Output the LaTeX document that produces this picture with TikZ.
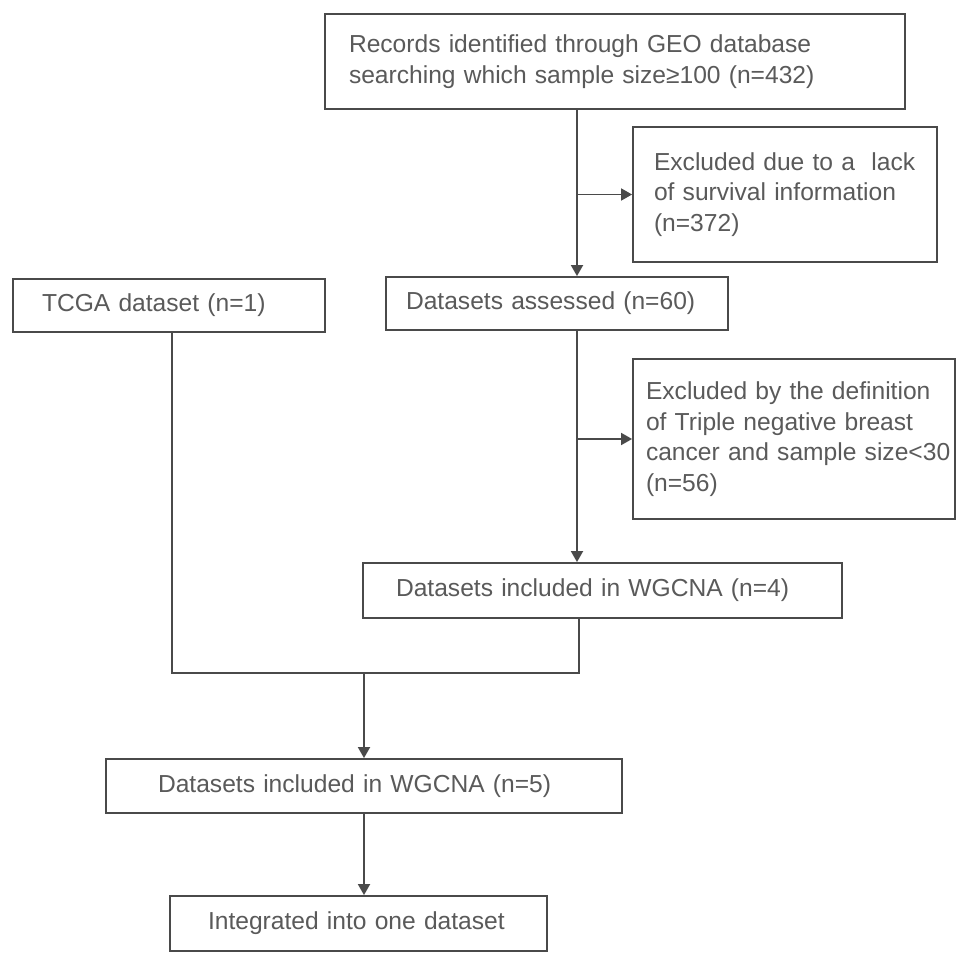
\documentclass[tikz,border=0pt]{standalone}
\usepackage{fontspec}
\setmainfont{Liberation Sans}
\usetikzlibrary{arrows.meta}
\definecolor{edgegray}{HTML}{4A4A4A}
\definecolor{txtgray}{HTML}{5A5A5A}
\tikzset{
  box/.style={draw=edgegray, line width=1.8pt, fill=white, text=txtgray, align=left,
    inner ysep=0pt, font=\fontsize{24.6}{30.5}\selectfont},
  link/.style={draw=edgegray, line width=1.8pt},
  arr/.style={link, -{Triangle[length=11pt,width=12pt]}}
}
\begin{document}
\begin{tikzpicture}[x=1pt,y=-1pt]
\useasboundingbox (0,0) rectangle (969,965);
\node[box, text width=532pt, inner xsep=24pt, minimum height=95pt] (rec) at (615,61.5)
  {Records identified through GEO database\\searching which sample size≥100 (n=432)};
\node[box, text width=262pt, inner xsep=21pt, minimum height=135pt] (excl1) at (785,194.5)
  {Excluded due to a\ \ lack\\of survival information\\(n=372)};
\node[box, text width=254pt, inner xsep=29pt, minimum height=53pt] (tcga) at (169,305.5)
  {TCGA dataset (n=1)};
\node[box, text width=302pt, inner xsep=20pt, minimum height=53pt] (assess) at (557,303.5)
  {Datasets assessed (n=60)};
\node[box, text width=296pt, inner xsep=13pt, minimum height=160pt] (excl2) at (794,439)
  {\mbox{Excluded by the definition}\\\mbox{of Triple negative breast}\\\mbox{cancer and sample size<30}\\(n=56)};
\node[box, text width=413pt, inner xsep=33pt, minimum height=55pt] (wg4) at (602.5,590.5)
  {Datasets included in WGCNA (n=4)};
\node[box, text width=412pt, inner xsep=52pt, minimum height=54pt] (wg5) at (364,786)
  {Datasets included in WGCNA (n=5)};
\node[box, text width=301pt, inner xsep=38pt, minimum height=55pt] (integ) at (358.5,923.5)
  {Integrated into one dataset};
\coordinate (v) at (577,0);
\coordinate (ja) at (172,673);
\coordinate (jb) at (579,673);
\coordinate (jm) at (364,673);
\draw[arr] (rec.south -| v) -- (assess.north -| v);
\draw[arr] (excl1.west -| v) -- (excl1.west);
\draw[arr] (assess.south -| v) -- (wg4.north -| v);
\draw[arr] (excl2.west -| v) -- (excl2.west);
\draw[link, line join=miter] (tcga.south -| ja) -- (ja) -- (jb) -- (wg4.south -| jb);
\draw[arr] (jm) -- (wg5.north -| jm);
\draw[arr] (wg5.south -| jm) -- (integ.north -| jm);
\end{tikzpicture}
\end{document}
